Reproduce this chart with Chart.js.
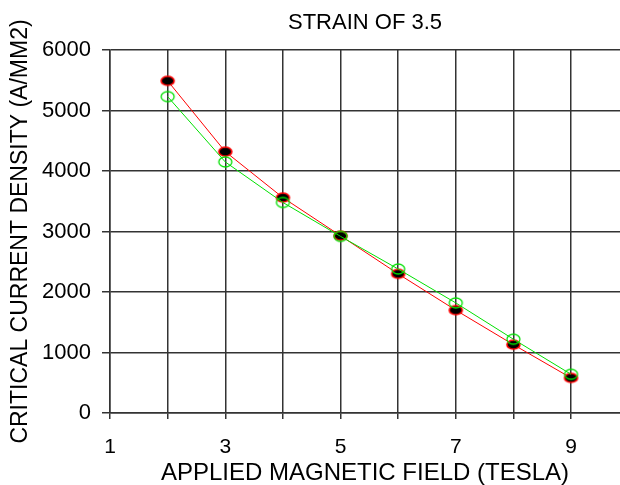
<!DOCTYPE html>
<html>
<head>
<meta charset="utf-8">
<script src="https://cdn.jsdelivr.net/npm/chart.js@4"></script>
<style>
  body { margin: 0; background: #fff; }
  #wrap { width: 620px; height: 485px; }
</style>
</head>
<body>
<div id="wrap"><canvas id="strainChart" width="620" height="485"></canvas></div>
<script>
// values
const fieldTesla = [2, 3, 4, 5, 6, 7, 8, 9];
const measured = [5490, 4320, 3560, 2930, 2300, 1700, 1130, 580];
const fitted = [5230, 4150, 3480, 2920, 2380, 1820, 1220, 640];
const xGridValues = [1, 2, 3, 4, 5, 6, 7, 8, 9];
const xTickLabels = ["1", "3", "5", "7", "9"];
const chartTitle = "STRAIN OF 3.5";

function ellipseMarker(w, h, fill, stroke, lw) {
  const c = document.createElement("canvas");
  c.width = w + 4;
  c.height = h + 4;
  const g = c.getContext("2d");
  g.beginPath();
  g.ellipse(c.width / 2, c.height / 2, w / 2, h / 2, 0, 0, Math.PI * 2);
  if (fill) {
    g.fillStyle = fill;
    g.fill();
  }
  g.strokeStyle = stroke;
  g.lineWidth = lw;
  g.stroke();
  return c;
}

const redDot = ellipseMarker(13, 9, "#000", "#ff0000", 1.6);
const greenRing = ellipseMarker(13, 10, null, "#00e000", 1.3);

const gridColor = "#333";
const fontName = "Liberation Sans";

// title centred over the plot area rather than the whole canvas
const areaTitle = {
  id: "areaTitle",
  afterDraw(chart) {
    const { ctx, chartArea } = chart;
    ctx.save();
    ctx.fillStyle = "#000";
    ctx.font = "22px " + fontName;
    ctx.textAlign = "center";
    ctx.textBaseline = "middle";
    ctx.fillText(chartTitle, (chartArea.left + chartArea.right) / 2, 23);
    ctx.restore();
  },
};

new Chart(document.getElementById("strainChart"), {
  type: "line",
  data: {
    datasets: [
      {
        label: "fit",
        data: fieldTesla.map((x, i) => ({ x, y: fitted[i] })),
        borderColor: "#00e000",
        borderWidth: 1,
        pointStyle: greenRing,
        order: 0,
      },
      {
        label: "measured",
        data: fieldTesla.map((x, i) => ({ x, y: measured[i] })),
        borderColor: "#ff0000",
        borderWidth: 1,
        pointStyle: redDot,
        order: 1,
      },
    ],
  },
  plugins: [areaTitle],
  options: {
    responsive: false,
    animation: false,
    layout: {
      autoPadding: false,
      padding: { top: 50, left: 0, right: 0, bottom: 0 },
    },
    plugins: {
      legend: { display: false },
      tooltip: { enabled: false },
      title: { display: false },
    },
    scales: {
      x: {
        type: "linear",
        min: 1,
        max: 9.85,
        afterBuildTicks: (scale) => {
          scale.ticks = xGridValues.map((v) => ({ value: v }));
        },
        afterFit: (scale) => {
          scale.height = 72;
          scale.paddingLeft = 0;
          scale.paddingRight = 0;
        },
        ticks: {
          color: "#000",
          font: { family: fontName, size: 21 },
          padding: 16,
          maxRotation: 0,
          autoSkip: false,
          callback: (v) => (xTickLabels.includes(String(v)) ? String(v) : ""),
        },
        grid: { color: gridColor, lineWidth: 1.5, tickLength: 6 },
        border: { color: gridColor, width: 1.5 },
        title: {
          display: true,
          text: "APPLIED MAGNETIC FIELD (TESLA)",
          color: "#000",
          font: { family: fontName, size: 24, lineHeight: 1 },
          padding: { top: 0, bottom: 0 },
        },
      },
      y: {
        min: 0,
        max: 6000,
        afterFit: (scale) => {
          scale.width = 110;
          scale.paddingTop = 0;
          scale.paddingBottom = 0;
        },
        ticks: {
          stepSize: 1000,
          color: "#000",
          font: { family: fontName, size: 22 },
          padding: 11,
          callback: (v) => String(v),
        },
        grid: { color: gridColor, lineWidth: 1.5, tickLength: 8 },
        border: { color: gridColor, width: 1.5 },
        title: {
          display: true,
          text: "CRITICAL CURRENT DENSITY (A/MM2)",
          color: "#000",
          font: { family: fontName, size: 23, lineHeight: 1 },
          padding: { top: 9, bottom: 0 },
        },
      },
    },
  },
});
</script>
</body>
</html>
